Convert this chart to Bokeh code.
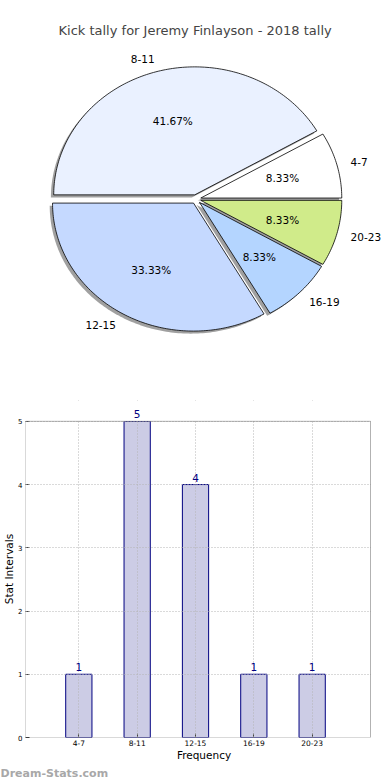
import math
from bokeh.plotting import figure
from bokeh.layouts import column
from bokeh.models import Range1d, FixedTicker, ColumnDataSource, LabelSet, Title, BoxAnnotation
from bokeh.core.properties import value
from bokeh.embed import file_html
from bokeh.resources import INLINE

# ---------------- data ----------------
categories = ["4-7", "8-11", "12-15", "16-19", "20-23"]
counts = [1, 5, 4, 1, 1]
pie_colors = ["#FFFFFF", "#EAF1FF", "#C5D9FF", "#B4D5FF", "#D0EB8A"]
y_ticks = [0, 1, 2, 3, 4, 5]
title_text = "Kick tally for Jeremy Finlayson - 2018 tally"
x_label = "Frequency"
y_label = "Stat Intervals"
watermark = "Dream-Stats.com"

FONT = "DejaVu Sans"

# ---------------- layout constants (page pixels) ----------------
W = 390
H1 = 400
H2 = 380
LEFT = 25          # frame left (shared by both figures)
RIGHT_B = 8        # right border (shared)
TOP_PAD = 42
cx_page, cy_page = 195.5, 198.7
rx_px, ry_px = 141.0, 128.0
explode = 0.035

x_start = (LEFT - cx_page) / rx_px
x_end = (W - RIGHT_B - cx_page) / rx_px
y_start = (cy_page - H1) / ry_px
y_end = (cy_page - TOP_PAD) / ry_px

# ---------------- pie ----------------
p1 = figure(width=W, height=H1, x_range=Range1d(x_start, x_end), y_range=Range1d(y_start, y_end),
            output_backend="svg", toolbar_location=None, x_axis_type=None, y_axis_type=None,
            min_border_left=LEFT, min_border_right=RIGHT_B, min_border_bottom=0, min_border_top=TOP_PAD,
            title=title_text)
p1.title.text_font = FONT
p1.title.text_font_size = "13px"
p1.title.text_font_style = "normal"
p1.title.align = "left"
p1.title.offset = 58 - LEFT
p1.grid.visible = False
p1.outline_line_color = None

total = float(sum(counts))
xs, ys, sxs, sys_ = [], [], [], []
lab_x, lab_y, lab_al = [], [], []
pct_x, pct_y, pct_t = [], [], []
start = 0.0
for c in counts:
    span = 360.0 * c / total
    mid = math.radians(start + span / 2)
    ox, oy = explode * math.cos(mid), explode * math.sin(mid)
    n = max(8, int(span))
    px = [ox] + [ox + math.cos(math.radians(start + span * i / n)) for i in range(n + 1)]
    py = [oy] + [oy + math.sin(math.radians(start + span * i / n)) for i in range(n + 1)]
    xs.append(px)
    ys.append(py)
    sxs.append([v - 0.02 for v in px])
    sys_.append([v - 0.02 for v in py])
    lab_x.append(ox + 1.1 * math.cos(mid))
    lab_y.append(oy + 1.1 * math.sin(mid))
    lab_al.append("left" if math.cos(mid) > 0 else "right")
    pct_x.append(ox + 0.6 * math.cos(mid))
    pct_y.append(oy + 0.6 * math.sin(mid))
    pct_t.append("%.2f%%" % (100.0 * c / total))
    start += span

p1.patches(sxs, sys_, fill_color="#808080", fill_alpha=0.75, line_color=None)
p1.patches(xs, ys, fill_color=pie_colors, line_color="black", line_width=0.8)
p1.text(x=lab_x, y=lab_y, text=categories, text_align=lab_al, text_baseline="middle",
        text_font=value(FONT), text_font_size="10.5px", text_color="black")
p1.text(x=pct_x, y=pct_y, text=pct_t, text_align="center", text_baseline="middle",
        text_font=value(FONT), text_font_size="10.5px", text_color="black")

# ---------------- bars ----------------
xpos = list(range(len(categories)))
y_max = max(y_ticks)
x_lo, x_hi = -1, 5
box_left, box_top, box_bottom, box_right = 20.0, 421.0, 740.0, 370.0
px_per_y = (box_bottom - box_top) / y_max
px_per_x = (box_right - box_left) / (x_hi - x_lo)
y_hi = y_max + (box_top - H1) / px_per_y
x_view_lo = x_lo + (LEFT - box_left) / px_per_x
x_view_hi = x_hi + (W - RIGHT_B - box_right) / px_per_x

p2 = figure(width=W, height=H2, x_range=Range1d(x_view_lo, x_view_hi), y_range=Range1d(0, y_hi),
            output_backend="svg", toolbar_location=None,
            min_border_top=0, min_border_right=RIGHT_B, min_border_left=LEFT,
            min_border_bottom=int(H1 + H2 - box_bottom))
p2.vbar(x=xpos, top=counts, width=0.45, fill_color="#CCCCE5", line_color="#000080", line_width=1)

p2.outline_line_color = None
p2.xaxis.ticker = FixedTicker(ticks=xpos)
p2.xaxis.major_label_overrides = {i: c for i, c in enumerate(categories)}
p2.yaxis.ticker = FixedTicker(ticks=y_ticks)
p2.xgrid.ticker = FixedTicker(ticks=xpos)
p2.ygrid.ticker = FixedTicker(ticks=y_ticks)
for g in (p2.xgrid, p2.ygrid):
    g.grid_line_color = "#b5b5b5"
    g.grid_line_dash = "1 2"
    g.grid_line_width = 1
    g.level = "guide"

# white masks outside the axes box (hide grid there)
p2.add_layout(BoxAnnotation(bottom=y_max, fill_color="white", fill_alpha=1, line_color=None,
                            level="annotation"))
p2.add_layout(BoxAnnotation(left=x_hi, fill_color="white", fill_alpha=1, line_color=None,
                            level="annotation"))
# axes box (left side is the frame edge)
p2.add_layout(BoxAnnotation(left=x_view_lo, right=x_hi, bottom=0, top=y_max, fill_alpha=0,
                            line_color="black", line_width=1, level="annotation"))

src = ColumnDataSource(dict(x=xpos, y=counts, t=[str(c) for c in counts]))
p2.add_layout(LabelSet(x="x", y="y", text="t", source=src, text_align="center", text_baseline="bottom",
                       y_offset=3, text_font=value(FONT), text_font_size="10.5px", text_color="#000080",
                       level="overlay"))

for ax in (p2.xaxis, p2.yaxis):
    ax.axis_line_color = None
    ax.major_tick_in = 4
    ax.major_tick_out = 0
    ax.minor_tick_in = 0
    ax.minor_tick_out = 0
    ax.major_tick_line_color = "#444444"
    ax.major_label_text_font = FONT
    ax.major_label_text_color = "black"
    ax.major_label_standoff = 3
    ax.axis_label_text_font = FONT
    ax.axis_label_text_font_size = "10.5px"
    ax.axis_label_text_font_style = "normal"
    ax.axis_label_text_color = "black"
p2.xaxis.major_label_text_font_size = "7.5px"
p2.yaxis.major_label_text_font_size = "7px"
p2.xaxis.major_label_standoff = 2
p2.xaxis.axis_label_standoff = 0
p2.yaxis.axis_label_standoff = 0
p2.yaxis.axis_label_text_line_height = 0.9
p2.xaxis.axis_label = x_label
p2.yaxis.axis_label = y_label

wm = Title(text=watermark, align="left", vertical_align="bottom", text_font=FONT, text_font_size="11px",
           text_font_style="bold", text_color="#A8A8A8", offset=-LEFT, standoff=2)
p2.add_layout(wm, "below")

layout = column(p1, p2, spacing=0)
open("out.html", "w").write(file_html(layout, INLINE))
